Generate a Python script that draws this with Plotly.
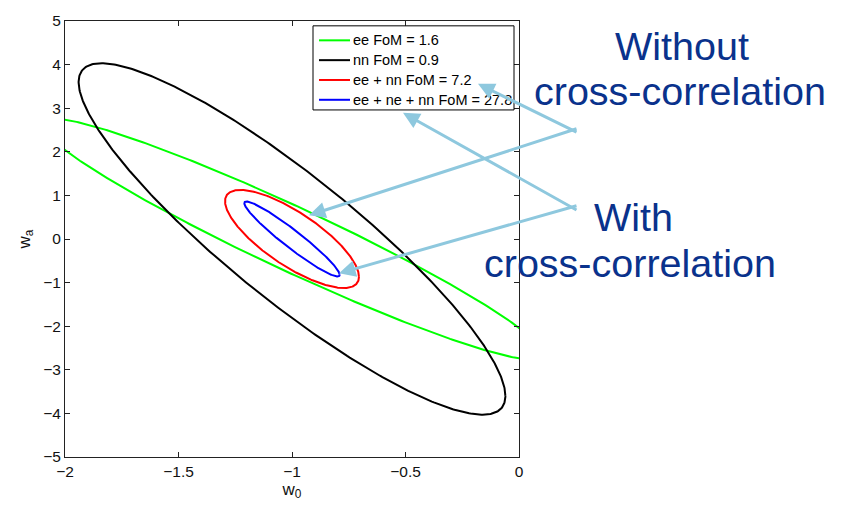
import numpy as np
import plotly.graph_objects as go

# Fiducial dark-energy model and 1-sigma Fisher ellipse parameters
w0_fid = -1.0
wa_fid = 0.0
labels = ["ee FoM = 1.6", "nn FoM = 0.9", "ee + nn FoM = 7.2", "ee + ne + nn FoM = 27.8"]
colors = ["#00ff00", "#000000", "#ff0000", "#0000ff"]
sigma_w0 = [1.112, 0.94, 0.295, 0.21]
sigma_wa = [2.775, 4.03, 1.125, 0.86]
rho = [-0.957, -0.893, -0.77, -0.955]

x_ticks = [-2, -1.5, -1, -0.5, 0]
y_ticks = [-5, -4, -3, -2, -1, 0, 1, 2, 3, 4, 5]

W, H = 841, 505
ML, MR, MT, MB = 65, 322, 12, 42
PW, PH = W - ML - MR, H - MT - MB


def paper_x(px):
    return (px - ML) / PW


def paper_y(py):
    return (H - MB - py) / PH


FONT = "Liberation Sans, Arial, Helvetica, sans-serif"

fig = go.Figure()

t = np.linspace(0, 2 * np.pi, 500)
for lab, col, sx, sy, r in zip(labels, colors, sigma_w0, sigma_wa, rho):
    x = w0_fid + sx * np.cos(t)
    y = wa_fid + sy * (r * np.cos(t) + np.sqrt(1 - r * r) * np.sin(t))
    fig.add_trace(go.Scatter(x=x, y=y, mode="lines", name=lab,
                             line=dict(color=col, width=2), showlegend=False,
                             hoverinfo="skip"))

shapes = []
annotations = []

# Legend box drawn inside the axes
lx0, ly0, lx1, ly1 = 313, 17, 514, 104
shapes.append(dict(type="rect", xref="paper", yref="paper",
                   x0=paper_x(lx0), x1=paper_x(lx1), y0=paper_y(ly1), y1=paper_y(ly0),
                   line=dict(color="#000000", width=1), fillcolor="white", layer="above"))
row_y = [32, 52.5, 73, 93.5]
for lab, col, ry in zip(labels, colors, row_y):
    shapes.append(dict(type="line", xref="paper", yref="paper",
                       x0=paper_x(319), x1=paper_x(350), y0=paper_y(ry), y1=paper_y(ry),
                       line=dict(color=col, width=2), layer="above"))
    annotations.append(dict(x=paper_x(351), y=paper_y(ry), xref="paper", yref="paper",
                            text=lab, showarrow=False, xanchor="left", yanchor="middle",
                            font=dict(family=FONT, size=14.5, color="#000000")))

# Side labels
navy = "#0a328c"
side_text = [
    ("Without", 682, 38),
    ("cross-correlation", 680, 84),
    ("With", 633, 215),
    ("cross-correlation", 630, 262),
]
for txt, cx, cy in side_text:
    annotations.append(dict(x=paper_x(cx), y=paper_y(cy), xref="paper", yref="paper",
                            text=txt, showarrow=False, xanchor="center", yanchor="middle",
                            font=dict(family=FONT, size=39.5, color=navy)))

# Pointer arrows: (tail_x, tail_y, head_x, head_y) in pixels
arrow_col = "#8ec8de"
arrows = [
    (578, 126, 478, 77),
    (578, 126, 309, 213),
    (578, 205, 403, 107),
    (578, 205, 339, 273),
]
for tx, ty, hx, hy in arrows:
    annotations.append(dict(x=paper_x(hx), y=paper_y(hy), xref="paper", yref="paper",
                            ax=tx - hx, ay=ty - hy, axref="pixel", ayref="pixel",
                            text="", showarrow=True, arrowhead=2, arrowsize=1.1,
                            arrowwidth=3, arrowcolor=arrow_col, standoff=0))

axis_common = dict(showline=True, linecolor="#222222", linewidth=1, mirror="ticks",
                   ticks="inside", ticklen=5, tickcolor="#222222", showgrid=False,
                   zeroline=False, tickfont=dict(family=FONT, size=15.5, color="#111111"))

fig.update_layout(
    width=W, height=H,
    margin=dict(l=ML, r=MR, t=MT, b=MB, pad=0),
    paper_bgcolor="white", plot_bgcolor="white",
    xaxis=dict(range=[-2, 0], tickvals=x_ticks,
               title=dict(text="w<sub>0</sub>", font=dict(family=FONT, size=17, color="#111111"),
                          standoff=2),
               **axis_common),
    yaxis=dict(range=[-5, 5], tickvals=y_ticks,
               title=dict(text="w<sub>a</sub>", font=dict(family=FONT, size=17, color="#111111"),
                          standoff=8),
               **axis_common),
    shapes=shapes,
    annotations=annotations,
    showlegend=False,
)

fig.write_html("out.html")
